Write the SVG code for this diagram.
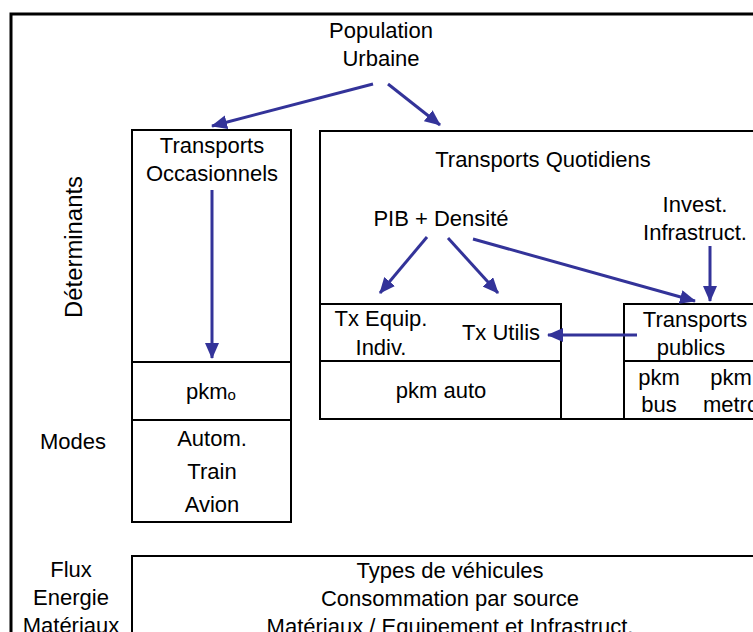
<svg xmlns="http://www.w3.org/2000/svg" width="753" height="632" viewBox="0 0 753 632">
<style>
text{font-family:"Liberation Sans",Arial,sans-serif;font-size:22px;fill:#000;text-anchor:middle}
.box{fill:none;stroke:#000;stroke-width:2}
.frame{fill:none;stroke:#000;stroke-width:3}
.arr{stroke:#333399;stroke-width:3;fill:none;marker-end:url(#ah)}
</style>
<defs>
<marker id="ah" markerUnits="userSpaceOnUse" viewBox="0 0 16 14" refX="15" refY="7" markerWidth="16" markerHeight="14" orient="auto">
<path d="M0,0 L16,7 L0,14 z" fill="#333399"/>
</marker>
</defs>
<rect width="753" height="632" fill="#fff"/>
<rect class="frame" x="11" y="14" width="770" height="650"/>
<g id="labels">
<text transform="translate(82,247) rotate(-90)" style="font-size:23px" textLength="142" lengthAdjust="spacingAndGlyphs">Déterminants</text>
<text x="73" y="449">Modes</text>
<text x="71" y="577">Flux</text>
<text x="71" y="605">Energie</text>
<text x="71" y="633">Matériaux</text>
</g>
<g id="population">
<text x="381" y="38">Population</text>
<text x="381" y="66">Urbaine</text>
</g>
<g id="occasionnels">
<rect class="box" x="132" y="130" width="159" height="392"/>
<line class="box" x1="132" y1="362" x2="291" y2="362"/>
<line class="box" x1="132" y1="420" x2="291" y2="420"/>
<text x="212" y="153">Transports</text>
<text x="212" y="181">Occasionnels</text>
<text x="211" y="399">pkm<tspan font-size="15" dy="1">o</tspan></text>
<text x="212" y="446">Autom.</text>
<text x="212" y="479">Train</text>
<text x="212" y="512">Avion</text>
</g>
<g id="quotidiens">
<rect class="box" x="320" y="131" width="460" height="288"/>
<text x="543" y="167">Transports Quotidiens</text>
</g>
<g id="pib">
<text x="441" y="226">PIB + Densité</text>
</g>
<g id="invest">
<text x="695" y="212">Invest.</text>
<text x="695" y="240">Infrastruct.</text>
</g>
<g id="txequip">
<rect class="box" x="320" y="304" width="241" height="115"/>
<line class="box" x1="320" y1="361" x2="561" y2="361"/>
<text x="381" y="326">Tx Equip.</text>
<text x="381" y="355">Indiv.</text>
<text x="501" y="340">Tx Utilis</text>
<text x="441" y="398">pkm auto</text>
</g>
<g id="publics">
<rect class="box" x="624" y="304" width="150" height="115"/>
<line class="box" x1="624" y1="361" x2="774" y2="361"/>
<text x="695" y="327">Transports</text>
<text x="691" y="355">publics</text>
<text x="659" y="385">pkm</text>
<text x="659" y="412">bus</text>
<text x="731" y="385">pkm</text>
<text x="731" y="412">metro</text>
</g>
<g id="flux">
<rect class="box" x="132" y="556" width="650" height="100"/>
<text x="450" y="578">Types de véhicules</text>
<text x="450" y="606">Consommation par source</text>
<text x="450" y="634">Matériaux / Equipement et Infrastruct.</text>
</g>
<g id="connectors">
<line class="arr" x1="373" y1="84" x2="212" y2="126"/>
<line class="arr" x1="388" y1="84" x2="440" y2="125"/>
<line class="arr" x1="212" y1="190" x2="212" y2="358"/>
<line class="arr" x1="427" y1="237" x2="380" y2="293"/>
<line class="arr" x1="448" y1="238" x2="498" y2="293"/>
<line class="arr" x1="473" y1="239" x2="695" y2="301"/>
<line class="arr" x1="710" y1="246" x2="710" y2="301"/>
<line class="arr" x1="637" y1="335" x2="548" y2="335"/>
</g>
</svg>
